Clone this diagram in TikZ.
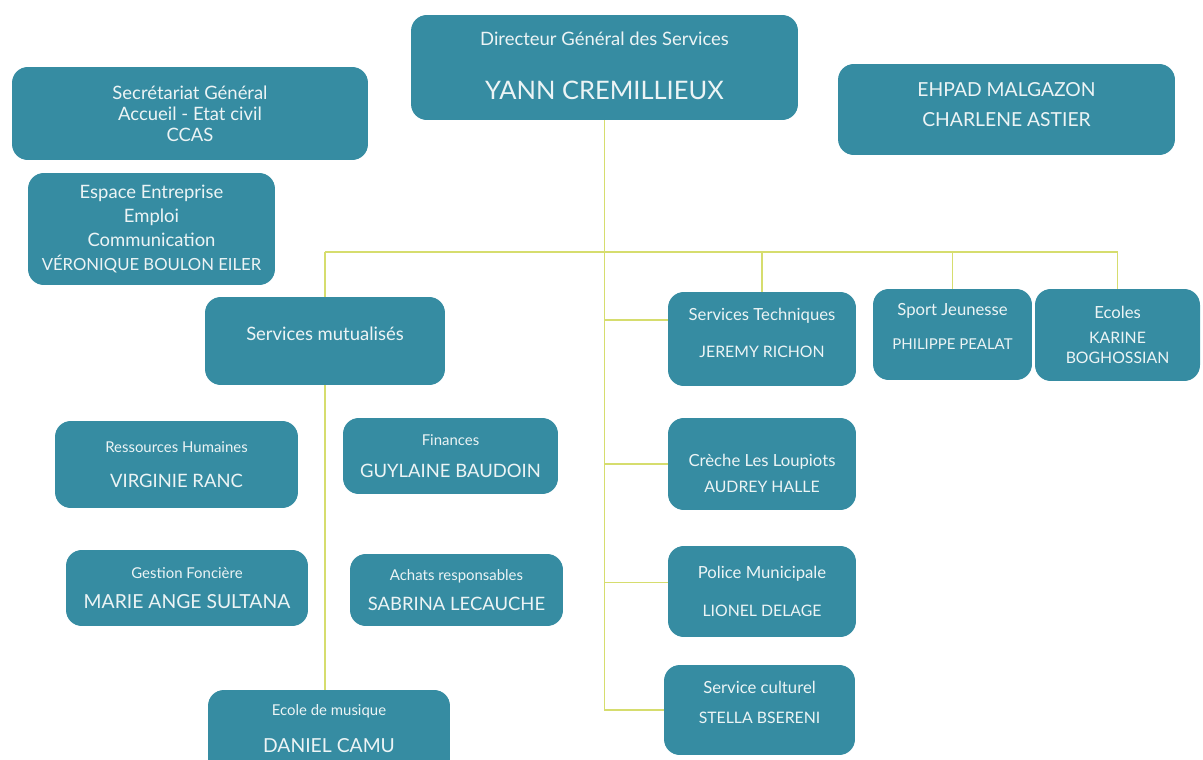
\documentclass[tikz,border=0pt]{standalone}
\usepackage{fontspec}
\setmainfont{Lato}
\usetikzlibrary{positioning}
\definecolor{boxteal}{RGB}{54,140,162}
\definecolor{boxtext}{RGB}{236,244,245}
\definecolor{linkgreen}{RGB}{214,221,110}
\newcommand{\fs}[1]{\fontsize{#1}{#1}\selectfont}

\begin{document}
\begin{tikzpicture}[x=0.02cm, y=-0.02cm]
    \tikzstyle{box}  = [rectangle, fill=boxteal, text=boxtext, rounded corners=9pt, align=center, inner sep=2pt, font=\fs{10}]
    \tikzstyle{link} = [draw=linkgreen, line width=1pt]

    \useasboundingbox (0,0) rectangle (1203,760);

    % Place nodes
    % Direction:
    \node [box, minimum width=7.74cm, minimum height=2.1cm] (dgs) at (604.5,67.5)
        {\fs{10.5}Directeur Général des Services\\[19pt]\fs{14.5}YANN CREMILLIEUX\\[-8pt]};
    \node [box, minimum width=7.12cm, minimum height=1.86cm] (secr) at (190,113.5)
        {\fs{10.5}Secrétariat Général\\[2pt]\fs{10.5}Accueil - Etat civil\\[2pt]\fs{10.5}CCAS};
    \node [box, minimum width=4.94cm, minimum height=2.24cm] (espace) at (151.5,229)
        {\fs{10.5}Espace Entreprise\\[3.5pt]\fs{10.5}Emploi\\[3.5pt]\fs{10.5}Communication\\[3.5pt]\fs{9.5}VÉRONIQUE BOULON EILER};
    \node [box, minimum width=6.74cm, minimum height=1.82cm] (ehpad) at (1006.5,109.5)
        {\fs{11}EHPAD MALGAZON\\[7pt]\fs{11}CHARLENE ASTIER\\[-4pt]};

    % Services mutualises:
    \node [box, minimum width=4.8cm, minimum height=1.76cm] (mutu) at (325,341)
        {\fs{10.5}Services mutualisés\\[-1.5pt]};
    \node [box, minimum width=4.86cm, minimum height=1.74cm] (rh) at (176.5,464.5)
        {\fs{8.5}Ressources Humaines\\[10pt]\fs{10.5}VIRGINIE RANC};
    \node [box, minimum width=4.3cm, minimum height=1.52cm] (fin) at (450.5,456)
        {\fs{8.5}Finances\\[8pt]\fs{10.5}GUYLAINE BAUDOIN};
    \node [box, minimum width=4.84cm, minimum height=1.52cm] (fonc) at (187,588)
        {\fs{8.5}Gestion Foncière\\[7pt]\fs{11}MARIE ANGE SULTANA};
    \node [box, minimum width=4.26cm, minimum height=1.44cm] (achats) at (456.5,590)
        {\fs{8.5}Achats responsables\\[7pt]\fs{10.5}SABRINA LECAUCHE};
    \node [box, minimum width=4.84cm, minimum height=1.7cm] (musique) at (329,732.5)
        {\fs{8.5}Ecole de musique\\[11pt]\fs{11}DANIEL CAMU\\[-5.4pt]};

    % Services:
    \node [box, minimum width=3.76cm, minimum height=1.88cm] (tech) at (762,339)
        {\fs{9.5}Services Techniques\\[11pt]\fs{9}JEREMY RICHON\\[-3.4pt]};
    \node [box, minimum width=3.18cm, minimum height=1.82cm] (sport) at (952.5,334.5)
        {\fs{9.5}Sport Jeunesse\\[9pt]\fs{8.5}PHILIPPE PEALAT\\[-1pt]};
    \node [box, minimum width=3.3cm, minimum height=1.84cm] (ecoles) at (1117.5,335)
        {\fs{9.5}Ecoles\\[4pt]\fs{9}KARINE\\[1.5pt]\fs{9}BOGHOSSIAN};
    \node [box, minimum width=3.76cm, minimum height=1.84cm] (creche) at (762,464)
        {\mbox{}\\[8pt]\fs{9.5}Crèche Les Loupiots\\[5pt]\fs{9}AUDREY HALLE};
    \node [box, minimum width=3.76cm, minimum height=1.82cm] (police) at (762,591.5)
        {\fs{9.5}Police Municipale\\[12pt]\fs{9}LIONEL DELAGE};
    \node [box, minimum width=3.82cm, minimum height=1.8cm] (culture) at (759.5,710)
        {\fs{9.5}Service culturel\\[7pt]\fs{9}STELLA BSERENI\\[-1.6pt]};

    % Connectors
    \coordinate (bus) at (605,252);
    \coordinate (techin) at ([yshift=0.38cm]tech.west);
    \coordinate (policein) at ([yshift=0.18cm]police.west);

    \path [link] (dgs) |- (culture);
    \path [link] (mutu.north |- bus) -- (ecoles.north |- bus);
    \path [link] (mutu.north |- bus) -- (mutu);
    \path [link] (mutu) -- (mutu |- musique.north);
    \path [link] (tech.north |- bus) -- (tech);
    \path [link] (sport.north |- bus) -- (sport);
    \path [link] (ecoles.north |- bus) -- (ecoles);
    \path [link] (dgs.south |- techin) -- (techin);
    \path [link] (dgs.south |- creche) -- (creche);
    \path [link] (dgs.south |- policein) -- (policein);
\end{tikzpicture}
\end{document}
